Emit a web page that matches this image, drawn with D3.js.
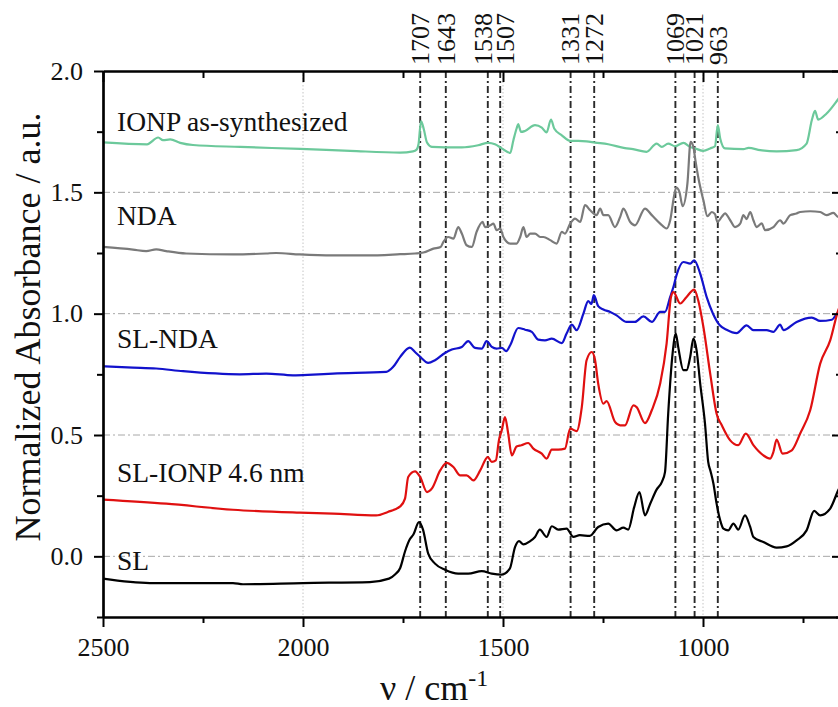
<!DOCTYPE html>
<html><head><meta charset="utf-8">
<script src="https://cdn.jsdelivr.net/npm/d3@7"></script>
<style>
body{margin:0;background:#fff}
svg{display:block}
text{font-family:"Liberation Serif","Times New Roman",serif;fill:#111}
</style>
</head><body>
<svg id="chart" width="838" height="707"></svg>
<script>
// ---------- data (wavenumber cm^-1, normalized absorbance) ----------
const xTickValues = [2500, 2000, 1500, 1000];
const xMinorValues = [2250, 1750, 1250, 750];
const yTickValues = [0.0, 0.5, 1.0, 1.5, 2.0];
const yMinorValues = [-0.25, 0.25, 0.75, 1.25, 1.75];
const peakPositions = [1707, 1643, 1538, 1507, 1331, 1272, 1069, 1021, 963];
const seriesNames = ["IONP as-synthesized", "NDA", "SL-NDA", "SL-IONP 4.6 nm", "SL"];

const ionpData = [
 [2500,1.706],[2390,1.698],[2362,1.726],[2350,1.715],[2332,1.718],[2307,1.704],[2275,1.695],
 [2157,1.687],[2007,1.679],[1882,1.671],[1757,1.664],[1725,1.669],[1716,1.676],[1711,1.700],
 [1705,1.794],[1698,1.760],[1690,1.705],[1678,1.687],[1645,1.685],[1603,1.685],[1562,1.694],
 [1537,1.704],[1520,1.698],[1503,1.681],[1482,1.662],[1474,1.715],[1466,1.763],[1462,1.781],
 [1455,1.749],[1445,1.753],[1420,1.777],[1403,1.767],[1391,1.747],[1380,1.800],[1372,1.763],
 [1353,1.735],[1332,1.712],[1312,1.712],[1291,1.710],[1270,1.705],[1237,1.698],[1195,1.682],
 [1175,1.678],[1141,1.667],[1116,1.701],[1103,1.687],[1087,1.701],[1070,1.690],[1049,1.704],
 [1032,1.687],[1020,1.681],[999,1.671],[982,1.681],[970,1.690],[963,1.777],[957,1.722],
 [945,1.681],[899,1.678],[886,1.683],[857,1.674],[816,1.669],[766,1.674],[741,1.701],
 [728,1.797],[720,1.836],[712,1.800],[691,1.825],[662,1.884],[650,1.910]
];
const ndaData = [
 [2500,1.275],[2425,1.264],[2392,1.258],[2367,1.265],[2342,1.258],[2292,1.248],[2175,1.244],
 [2092,1.248],[2067,1.250],[2008,1.244],[1925,1.240],[1842,1.240],[1757,1.245],[1720,1.248],
 [1699,1.252],[1674,1.268],[1656,1.275],[1649,1.296],[1637,1.316],[1624,1.309],[1612,1.357],
 [1603,1.330],[1591,1.282],[1578,1.275],[1566,1.337],[1551,1.378],[1545,1.357],[1532,1.364],
 [1524,1.371],[1516,1.344],[1507,1.351],[1499,1.316],[1482,1.289],[1466,1.289],[1457,1.316],
 [1449,1.357],[1441,1.316],[1432,1.330],[1420,1.330],[1407,1.316],[1399,1.316],[1382,1.303],
 [1366,1.289],[1353,1.337],[1345,1.330],[1332,1.371],[1320,1.392],[1307,1.378],[1295,1.447],
 [1282,1.426],[1266,1.406],[1257,1.433],[1249,1.406],[1237,1.406],[1220,1.357],[1207,1.399],
 [1199,1.433],[1182,1.378],[1170,1.364],[1145,1.433],[1128,1.406],[1107,1.371],[1091,1.351],
 [1082,1.385],[1072,1.488],[1067,1.520],[1059,1.502],[1051,1.443],[1039,1.536],[1031,1.708],
 [1024,1.687],[1019,1.632],[1012,1.563],[999,1.467],[989,1.402],[978,1.419],[970,1.410],
 [964,1.378],[953,1.399],[945,1.413],[932,1.385],[920,1.357],[907,1.371],[899,1.406],
 [891,1.390],[882,1.419],[874,1.385],[866,1.357],[853,1.372],[845,1.344],[824,1.357],
 [807,1.385],[799,1.371],[782,1.406],[766,1.413],[757,1.419],[732,1.422],[707,1.419],
 [691,1.406],[674,1.415],[662,1.399],[650,1.400]
];
const slNdaData = [
 [2500,0.783],[2425,0.778],[2367,0.774],[2300,0.763],[2158,0.750],[2092,0.753],[2025,0.746],
 [1975,0.749],[1925,0.753],[1792,0.760],[1775,0.780],[1757,0.822],[1733,0.860],[1720,0.842],
 [1707,0.822],[1687,0.797],[1670,0.808],[1645,0.838],[1628,0.852],[1603,0.863],[1587,0.887],
 [1570,0.859],[1553,0.856],[1541,0.887],[1528,0.863],[1516,0.856],[1503,0.859],[1492,0.846],
 [1482,0.870],[1462,0.941],[1445,0.934],[1428,0.925],[1412,0.893],[1395,0.890],[1378,0.897],
 [1353,0.879],[1341,0.918],[1328,0.955],[1316,0.932],[1299,1.000],[1287,1.052],[1279,1.040],
 [1273,1.076],[1262,1.031],[1249,1.017],[1232,1.007],[1216,0.993],[1191,0.966],[1170,0.966],
 [1149,0.989],[1128,0.966],[1107,1.007],[1095,1.007],[1082,1.069],[1074,1.110],[1066,1.160],
 [1049,1.213],[1032,1.206],[1022,1.220],[1007,1.165],[991,1.069],[975,1.000],[958,0.952],
 [941,0.934],[916,0.920],[891,0.952],[874,0.932],[841,0.932],[824,0.925],[807,0.955],
 [799,0.932],[766,0.966],[728,0.984],[707,0.970],[678,0.975],[662,1.007],[650,1.020]
];
const slIonpData = [
 [2500,0.234],[2342,0.217],[2175,0.192],[2008,0.180],[1925,0.176],[1817,0.169],[1788,0.183],
 [1757,0.206],[1745,0.238],[1737,0.327],[1720,0.350],[1707,0.327],[1690,0.265],[1678,0.279],
 [1657,0.354],[1641,0.385],[1624,0.368],[1607,0.334],[1591,0.334],[1574,0.313],[1557,0.354],
 [1538,0.409],[1528,0.389],[1518,0.395],[1510,0.480],[1503,0.520],[1495,0.574],[1487,0.506],
 [1478,0.416],[1466,0.453],[1454,0.458],[1437,0.467],[1424,0.444],[1403,0.423],[1391,0.403],
 [1378,0.440],[1362,0.440],[1345,0.444],[1332,0.526],[1316,0.516],[1303,0.615],[1291,0.808],
 [1278,0.842],[1270,0.810],[1262,0.712],[1249,0.629],[1241,0.640],[1220,0.554],[1207,0.540],
 [1195,0.540],[1174,0.622],[1166,0.615],[1145,0.549],[1128,0.602],[1107,0.712],[1091,0.877],
 [1080,1.069],[1074,1.089],[1057,1.042],[1041,1.069],[1022,1.099],[1012,1.055],[999,0.945],
 [982,0.753],[966,0.588],[953,0.540],[932,0.478],[912,0.458],[893,0.506],[874,0.458],
 [849,0.416],[832,0.403],[824,0.430],[816,0.481],[801,0.423],[778,0.437],[757,0.506],
 [732,0.602],[707,0.794],[682,0.890],[662,1.014],[650,1.060]
];
const slData = [
 [2500,-0.092],[2383,-0.110],[2175,-0.110],[2150,-0.115],[2000,-0.110],[1833,-0.106],
 [1785,-0.092],[1770,-0.075],[1757,-0.048],[1745,0.020],[1733,0.070],[1724,0.090],[1710,0.141],
 [1700,0.110],[1687,0.011],[1670,-0.030],[1645,-0.055],[1612,-0.071],[1587,-0.071],[1553,-0.061],
 [1528,-0.071],[1503,-0.075],[1483,-0.051],[1470,0.038],[1460,0.063],[1449,0.049],[1433,0.062],
 [1420,0.080],[1408,0.110],[1391,0.080],[1378,0.124],[1362,0.110],[1341,0.114],[1324,0.080],
 [1308,0.087],[1283,0.084],[1262,0.121],[1237,0.135],[1216,0.107],[1199,0.118],[1187,0.110],
 [1172,0.203],[1159,0.265],[1145,0.169],[1132,0.217],[1116,0.275],[1103,0.306],[1095,0.347],
 [1087,0.588],[1076,0.836],[1068,0.918],[1062,0.863],[1049,0.767],[1041,0.767],[1032,0.822],
 [1024,0.897],[1016,0.849],[1007,0.712],[995,0.547],[987,0.389],[981,0.350],[974,0.300],
 [966,0.217],[957,0.148],[949,0.114],[937,0.107],[924,0.135],[912,0.110],[895,0.169],
 [882,0.121],[874,0.080],[849,0.059],[816,0.036],[791,0.041],[766,0.066],[741,0.107],
 [722,0.187],[707,0.169],[682,0.197],[662,0.272],[650,0.310]
];
const seriesData = [ionpData, ndaData, slNdaData, slIonpData, slData];

// ---------- styles / layout ----------
const seriesColors = ["#6cc99b", "#7a7a7a", "#1212cc", "#e01010", "#000000"];
const labelLevels = [1.752, 1.364, 0.857, 0.305, -0.058];

const svg = d3.select("#chart");
const L = 103, R = 843, T = 71, B = 617;
const x = d3.scaleLinear().domain([2500, 650]).range([L, R]);
const y = d3.scaleLinear().domain([-0.25, 2.0]).range([B, T]);

// grid
const grid = svg.append("g");
grid.selectAll("line.h").data(yTickValues.filter(v => v < 2.0)).join("line")
  .attr("x1", L).attr("x2", R).attr("y1", d => y(d)).attr("y2", d => y(d))
  .attr("stroke", "#a8a8a8").attr("stroke-width", 1).attr("stroke-dasharray", "7,3,2,3");
grid.selectAll("line.v").data(xTickValues.filter(v => v < 2500)).join("line")
  .attr("y1", T).attr("y2", B).attr("x1", d => x(d)).attr("x2", d => x(d))
  .attr("stroke", "#c4c4c4").attr("stroke-width", 1).attr("stroke-dasharray", "1.5,2");

// peak markers
const pk = svg.append("g");
pk.selectAll("line").data(peakPositions).join("line")
  .attr("x1", d => x(d)).attr("x2", d => x(d)).attr("y1", T).attr("y2", B)
  .attr("stroke", "#2a2a2a").attr("stroke-width", 1.9).attr("stroke-dasharray", "7,3,2,3");

// label x positions with small collision spreading
const pkX = peakPositions.map(p => x(p));
for (let i = 0; i < pkX.length - 1; i++) {
  const gap = pkX[i + 1] - pkX[i];
  if (gap < 16) { const m = (pkX[i] + pkX[i + 1]) / 2; pkX[i] = m - 11; pkX[i + 1] = m + 11; }
}
pk.selectAll("text").data(peakPositions).join("text")
  .attr("transform", (d, i) => `translate(${pkX[i]},${T - 6}) rotate(-90)`)
  .attr("dy", "0.34em").attr("font-size", 26).attr("text-anchor", "start")
  .text(d => d);

// curves
const line = d3.line().x(d => x(d[0])).y(d => y(d[1])).curve(d3.curveMonotoneX);
svg.append("g").selectAll("path").data(seriesData).join("path")
  .attr("d", d => line(d.slice().sort((a, b) => b[0] - a[0])))
  .attr("fill", "none").attr("stroke", (d, i) => seriesColors[i])
  .attr("stroke-width", 2.2).attr("stroke-linejoin", "round");

// series labels
svg.append("g").selectAll("text").data(seriesNames).join("text")
  .attr("x", 117).attr("y", (d, i) => y(labelLevels[i]))
  .attr("font-size", 27.5).text(d => d);

// axes
function styleAxis(g) {
  g.selectAll("path.domain").attr("stroke", "#000").attr("stroke-width", 2.2);
  g.selectAll(".tick line").attr("stroke", "#000").attr("stroke-width", 2);
  g.selectAll(".tick text").attr("font-size", 26).attr("font-family", "Liberation Serif, serif").attr("fill", "#111");
}
const fmtX = d3.format("d"), fmtY = d3.format(".1f");
svg.append("g").attr("transform", `translate(0,${B})`)
  .call(d3.axisBottom(x).tickValues(xTickValues).tickFormat(fmtX).tickSize(10).tickSizeOuter(0).tickPadding(11)).call(styleAxis);
svg.append("g").attr("transform", `translate(0,${B})`)
  .call(d3.axisBottom(x).tickValues(xMinorValues).tickFormat("").tickSize(6).tickSizeOuter(0)).call(styleAxis);
svg.append("g").attr("transform", `translate(0,${T})`)
  .call(d3.axisTop(x).tickValues(xTickValues).tickFormat("").tickSize(-11).tickSizeOuter(0)).call(styleAxis);
svg.append("g").attr("transform", `translate(0,${T})`)
  .call(d3.axisTop(x).tickValues(xMinorValues).tickFormat("").tickSize(-7).tickSizeOuter(0)).call(styleAxis);
svg.append("g").attr("transform", `translate(${L},0)`)
  .call(d3.axisLeft(y).tickValues(yTickValues).tickFormat(fmtY).tickSize(9).tickSizeOuter(0).tickPadding(11)).call(styleAxis);
svg.append("g").attr("transform", `translate(${L},0)`)
  .call(d3.axisLeft(y).tickValues(yMinorValues).tickFormat("").tickSize(6).tickSizeOuter(0)).call(styleAxis);
svg.append("g").attr("transform", `translate(${R},0)`)
  .call(d3.axisRight(y).tickValues(yTickValues).tickFormat("").tickSize(-11).tickSizeOuter(0)).call(styleAxis);
svg.append("g").attr("transform", `translate(${R},0)`)
  .call(d3.axisRight(y).tickValues(yMinorValues).tickFormat("").tickSize(-7).tickSizeOuter(0)).call(styleAxis);

// axis titles
svg.append("text").attr("transform", `translate(40,327) rotate(-90)`)
  .attr("text-anchor", "middle").attr("font-size", 36).text("Normalized Absorbance / a.u.");
const xt = svg.append("text").attr("x", 380).attr("y", 700).attr("font-size", 36);
xt.append("tspan").text("ν  / cm");
xt.append("tspan").attr("dy", -14).attr("font-size", 24).text("-1");
</script>
</body></html>
